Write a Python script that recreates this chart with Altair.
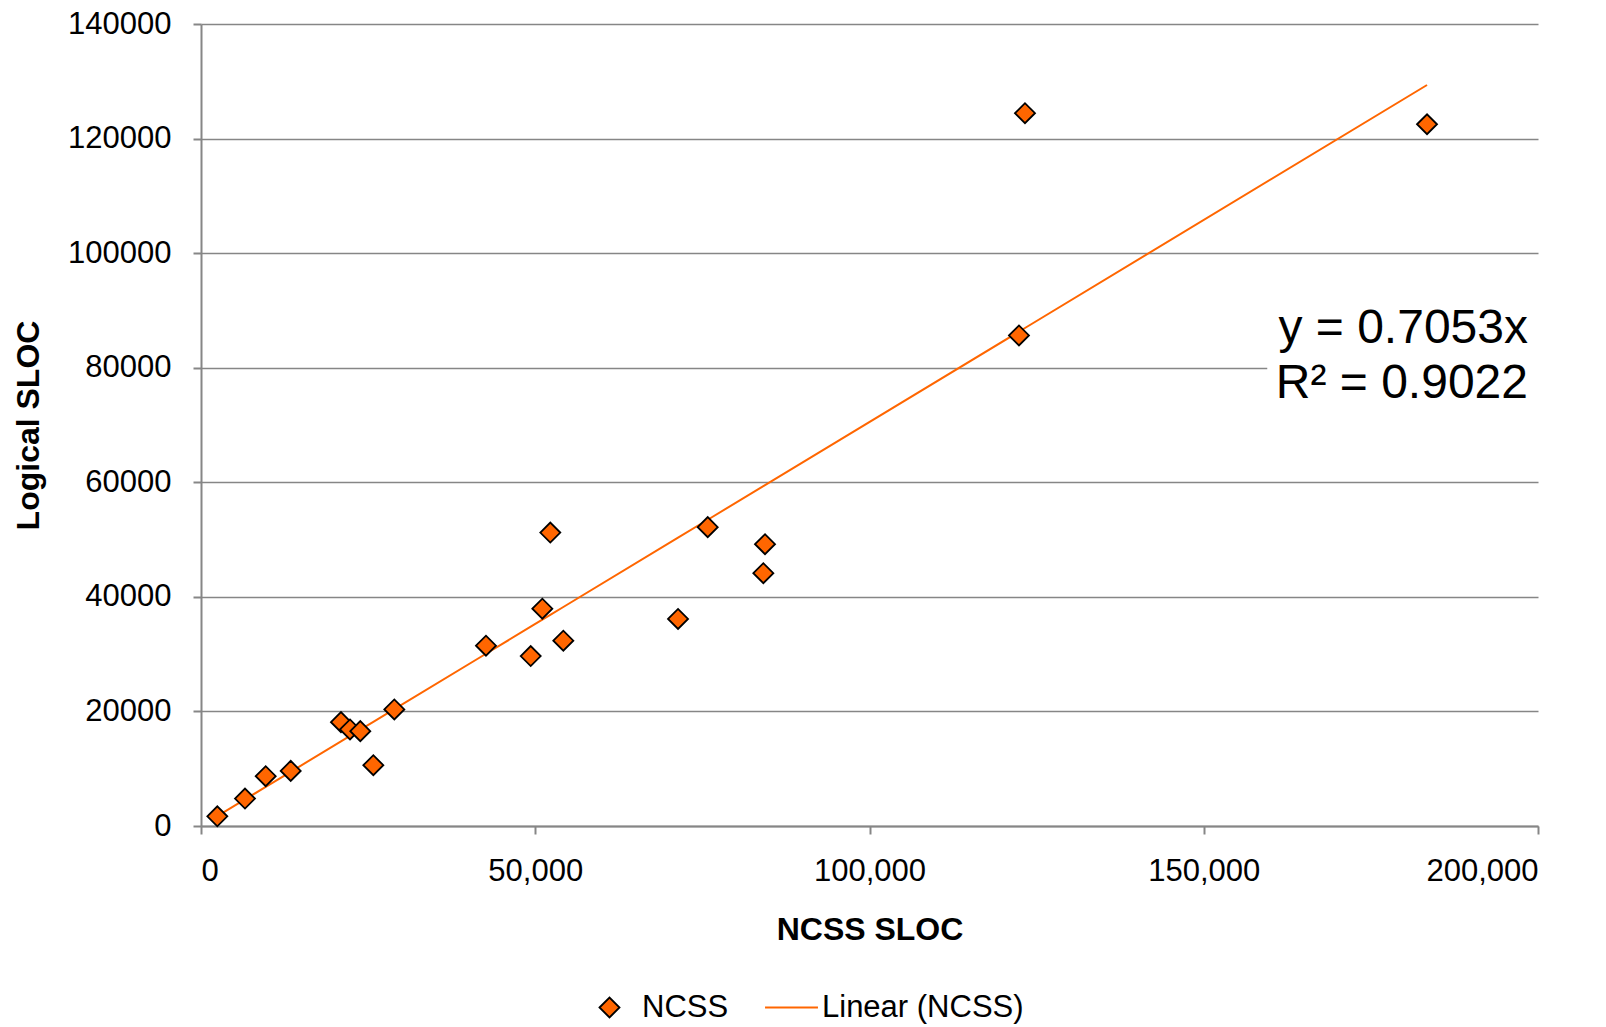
import altair as alt
import pandas as pd

# Data
ncss_sloc = [2440, 6580, 9680, 13420, 20940, 22290, 23830, 25780, 28920, 42630,
             49320, 51060, 52250, 54200, 71360, 75800, 84120, 84370, 122360, 123260, 183400]
logical_sloc = [1700, 4790, 8690, 9620, 18130, 16850, 16560, 10610, 20350, 31470,
                29670, 37940, 51220, 32340, 36140, 52170, 44130, 49200, 85630, 124430, 122500]
series_names = ["NCSS", "Linear (NCSS)"]
slope = 0.7053
equation_text = ["y = 0.7053x", "R² = 0.9022"]

FONT = "Liberation Sans"
ORANGE = "#FF6600"
GRAY = "#868686"

df = pd.DataFrame({"x": ncss_sloc, "y": logical_sloc, "series": series_names[0]})

xscale = alt.Scale(domain=[0, 200000], nice=False)
yscale = alt.Scale(domain=[0, 140000], nice=False)

xaxis = alt.Axis(title="NCSS SLOC", values=[0, 50000, 100000, 150000, 200000], format=",d",
                 grid=False, tickSize=8, labelPadding=22, titlePadding=28)
yaxis = alt.Axis(title="Logical SLOC", values=list(range(0, 140001, 20000)), format="d",
                 grid=True, tickSize=8, labelPadding=22, titlePadding=22)

base = alt.Chart(df)

line_legend = alt.Legend(
    orient="none", legendX=563, legendY=956, direction="horizontal", title=None,
    labelFont=FONT, labelFontSize=31, labelColor="black", labelOffset=3, padding=0,
    labelLimit=400, symbolType="stroke", symbolSize=2800, symbolStrokeWidth=2,
)
trend = base.transform_calculate(
    yfit=f"{slope} * datum.x",
    series2=f"'{series_names[1]}'",
).mark_line(strokeWidth=2).encode(
    x=alt.X("x:Q", scale=xscale, axis=xaxis),
    y=alt.Y("yfit:Q", scale=yscale, axis=yaxis),
    stroke=alt.Stroke("series2:N", scale=alt.Scale(domain=[series_names[1]], range=[ORANGE]),
                      legend=line_legend),
    order="x:Q",
)

point_legend = alt.Legend(
    orient="none", legendX=393, legendY=968, direction="horizontal", title=None,
    labelFont=FONT, labelFontSize=31, labelColor="black", labelOffset=17, padding=0,
    labelLimit=400, symbolType="diamond", symbolSize=400, symbolStrokeColor="black",
    symbolStrokeWidth=1.8,
)
points = base.mark_point(filled=True, size=400, shape="diamond", stroke="black",
                         strokeWidth=1.8, opacity=1).encode(
    x=alt.X("x:Q", scale=xscale),
    y=alt.Y("y:Q", scale=yscale),
    fill=alt.Fill("series:N", scale=alt.Scale(domain=[series_names[0]], range=[ORANGE]),
                  legend=point_legend),
)

ann_df = pd.DataFrame({"x1": [159500], "x2": [201500], "y1": [72000], "y2": [90000],
                       "tx": [198500], "ty": [84390], "label": ["\n".join(equation_text)]})
box = alt.Chart(ann_df).mark_rect(fill="white").encode(
    x=alt.X("x1:Q", scale=xscale), x2="x2:Q",
    y=alt.Y("y1:Q", scale=yscale), y2="y2:Q",
)
label = alt.Chart(ann_df).mark_text(
    font=FONT, fontSize=48, align="right", baseline="alphabetic", lineBreak="\n",
    lineHeight=55, color="black"
).encode(
    x=alt.X("tx:Q", scale=xscale),
    y=alt.Y("ty:Q", scale=yscale),
    text="label:N",
)

chart = alt.layer(box, trend, points, label).resolve_scale(
    fill="independent", stroke="independent"
).properties(
    width=1337, height=802,
    padding={"left": 201, "top": 24, "right": 68, "bottom": 201},
    autosize=alt.AutoSizeParams(type="none"),
).configure_view(stroke=None).configure_axis(
    labelFont=FONT, labelFontSize=31, labelColor="black",
    titleFont=FONT, titleFontSize=32, titleFontWeight="bold", titleColor="black",
    domainColor=GRAY, domainWidth=2, tickColor=GRAY, tickWidth=2,
    gridColor=GRAY, gridWidth=1.5,
)

chart.save("out.html", embed_options={"renderer": "svg", "actions": False})
